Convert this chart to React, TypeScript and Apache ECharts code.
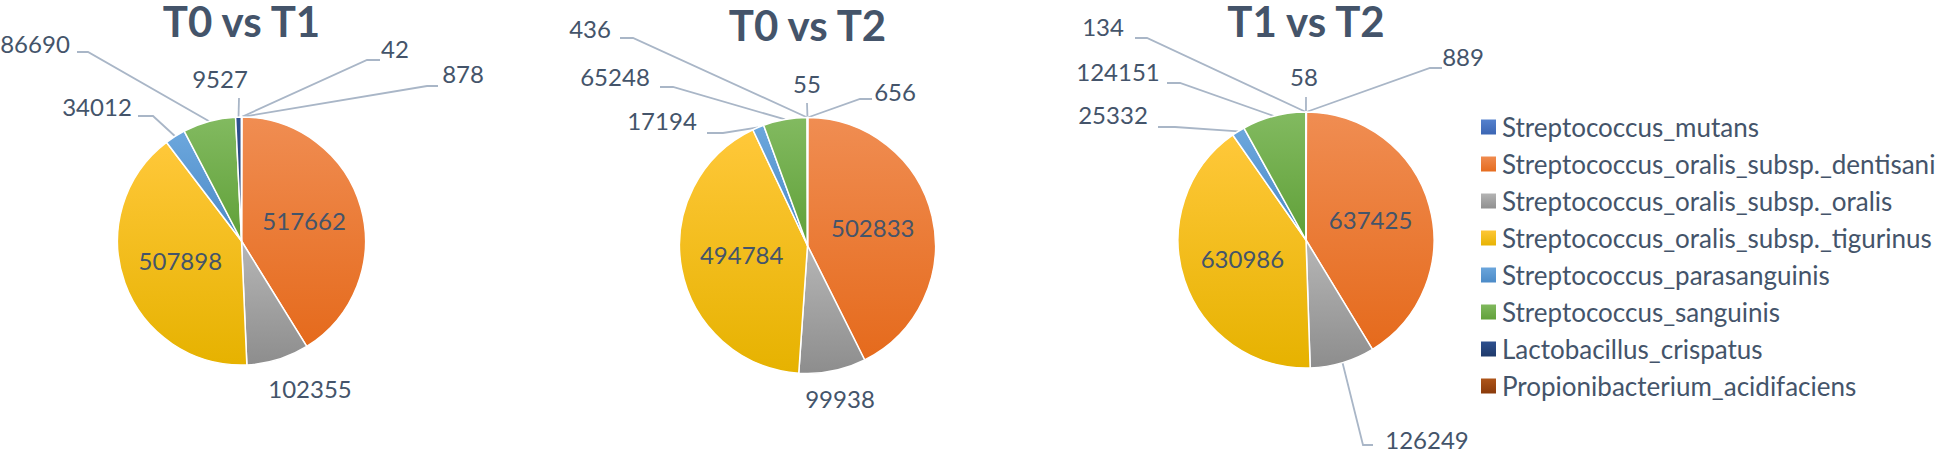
import React, { useEffect, useRef } from "react";
import * as echarts from "echarts";

// ---------- data ----------
const species = [
  "Streptococcus_mutans",
  "Streptococcus_oralis_subsp._dentisani",
  "Streptococcus_oralis_subsp._oralis",
  "Streptococcus_oralis_subsp._tigurinus",
  "Streptococcus_parasanguinis",
  "Streptococcus_sanguinis",
  "Lactobacillus_crispatus",
  "Propionibacterium_acidifaciens",
];
const comparisons = ["T0 vs T1", "T0 vs T2", "T1 vs T2"];
const t0VsT1 = [878, 517662, 102355, 507898, 34012, 86690, 9527, 42];
const t0VsT2 = [656, 502833, 99938, 494784, 17194, 65248, 436, 55];
const t1VsT2 = [889, 637425, 126249, 630986, 25332, 124151, 134, 58];
const seriesValues = [t0VsT1, t0VsT2, t1VsT2];

// ---------- styling / layout ----------
const sliceGradients: [string, string][] = [
  ["#5683CF", "#3A64B2"],
  ["#F08D52", "#E56A1C"],
  ["#B6B6B6", "#8D8D8D"],
  ["#FFC83A", "#E6B200"],
  ["#6CA7DD", "#4A89C6"],
  ["#82BA60", "#60A038"],
  ["#2F5291", "#1E3868"],
  ["#B0561A", "#88390A"],
];
const TEXT = "#44546A";
const LINE = "#A9B6C7";
const FONT = "Lato, 'Open Sans', sans-serif";

const pies = [
  { cx: 241.5, cy: 241, r: 124, titleTop: 0 },
  { cx: 807.5, cy: 245.5, r: 128, titleTop: 4 },
  { cx: 1306, cy: 240, r: 128, titleTop: 0 },
];
const LABEL_DY = -4;

// label placement relative to pie center: [labelDx, labelDy, p0dx, p0dy, p1dx|null, p1dy|null, showLine]
type LP = [number, number, number, number, number | null, number | null, boolean];
const labelPlace: Record<number, LP>[] = [
  {
    0: [221.5, -164, 196.5, -155, 185.5, -155, true],
    7: [153.5, -189, 138.5, -181, 125.5, -181, true],
    6: [-21.5, -159, -2.5, -143, null, null, true],
    5: [-206.5, -194, -164.5, -189, -153.5, -189, true],
    4: [-144.5, -131, -103.5, -125, -88.5, -125, true],
    2: [68.5, 151, 0, 0, null, null, false],
  },
  {
    0: [87.5, -150.5, 64.5, -146.5, 52.5, -146.5, true],
    7: [-0.5, -158.5, -0.5, -142.5, null, null, true],
    6: [-217.5, -213.5, -187.5, -207.5, -174.5, -207.5, true],
    5: [-192.5, -165.5, -147.5, -158.5, -134.5, -158.5, true],
    4: [-145.5, -121.5, -100.5, -112.5, -84.5, -112.5, true],
    2: [32.5, 156.5, 0, 0, null, null, false],
  },
  {
    0: [157, -180, 136, -172, 124, -172, true],
    7: [-2, -160, 0, -143, null, null, true],
    6: [-203, -210, -171, -202, -159, -202, true],
    5: [-188, -165, -139, -157, -126, -157, true],
    4: [-193, -122, -148, -113, -131, -113, true],
    2: [121, 203, 67, 205, 57, 205, true],
  },
];
const insideIdx = [1, 3];

function edgePoint(values: number[], idx: number, pie: { cx: number; cy: number; r: number }) {
  const total = values.reduce((a, b) => a + b, 0);
  let before = 0;
  for (let i = 0; i < idx; i++) before += values[i];
  const mid = ((before + values[idx] / 2) / total) * Math.PI * 2;
  return [pie.cx + pie.r * Math.sin(mid), pie.cy - pie.r * Math.cos(mid)];
}

export default function App() {
  const ref = useRef<HTMLDivElement>(null);
  useEffect(() => {
    if (!ref.current) return;
    document.body.style.margin = "0";
    const chart = echarts.init(ref.current, undefined, { renderer: "svg" });

    const series = seriesValues.map((values, si) => {
      const pie = pies[si];
      const places = labelPlace[si];
      return {
        type: "pie",
        name: comparisons[si],
        center: [pie.cx, pie.cy],
        radius: [0, pie.r],
        startAngle: 90,
        clockwise: true,
        avoidLabelOverlap: false,
        itemStyle: { borderColor: "#ffffff", borderWidth: 1.5 },
        label: {
          show: true,
          formatter: "{c}",
          fontFamily: FONT,
          fontSize: 24,
          color: TEXT,
        },
        labelLine: {
          show: true,
          length: 10,
          length2: 10,
          lineStyle: { color: LINE, width: 1.8 },
        },
        emphasis: { disabled: true },
        data: values.map((v, i) => {
          const inside = insideIdx.includes(i);
          const pl = places[i];
          return {
            name: species[i],
            value: v,
            itemStyle: {
              color: new echarts.graphic.LinearGradient(0, 0, 0, 1, [
                { offset: 0, color: sliceGradients[i][0] },
                { offset: 1, color: sliceGradients[i][1] },
              ]),
            },
            label: inside ? { position: "inside" } : { position: "outside" },
            labelLine: { show: !inside && !!pl && pl[6] },
          };
        }),
        labelLayout: (params: any) => {
          const i = params.dataIndex;
          const pl = places[i];
          if (!pl) return { dy: LABEL_DY + 1 };
          const lx = pie.cx + pl[0];
          const ly = pie.cy + pl[1] + LABEL_DY;
          const res: any = { x: lx, y: ly, align: "center", verticalAlign: "middle" };
          if (pl[6]) {
            const start =
              params.labelLinePoints && params.labelLinePoints[0]
                ? params.labelLinePoints[0]
                : edgePoint(values, i, pie);
            const pts: number[][] = [[pie.cx + pl[2], pie.cy + pl[3]]];
            if (pl[4] !== null && pl[5] !== null) pts.push([pie.cx + pl[4], pie.cy + pl[5]]);
            pts.push([start[0], start[1]]);
            res.labelLinePoints = pts;
          }
          return res;
        },
      };
    });

    const option: any = {
      animation: false,
      backgroundColor: "#ffffff",
      legend: {
        orient: "vertical",
        left: 1474,
        top: 109,
        itemWidth: 17,
        itemHeight: 17,
        itemGap: 11,
        icon: "rect",
        data: species,
        textStyle: { fontFamily: FONT, fontSize: 26, color: TEXT, lineHeight: 26 },
        selectedMode: false,
      },
      graphic: comparisons.map((t, si) => ({
        type: "text",
        x: pies[si].cx,
        y: pies[si].titleTop,
        style: {
          text: t,
          fontFamily: FONT,
          fontWeight: "bold",
          fontSize: 42,
          fill: TEXT,
          align: "center",
          verticalAlign: "top",
        },
      })),
      series,
    };
    chart.setOption(option);
    return () => chart.dispose();
  }, []);
  return (
    <div
      ref={ref}
      style={{ position: "absolute", left: 0, top: 0, width: 1957, height: 454 }}
    />
  );
}
